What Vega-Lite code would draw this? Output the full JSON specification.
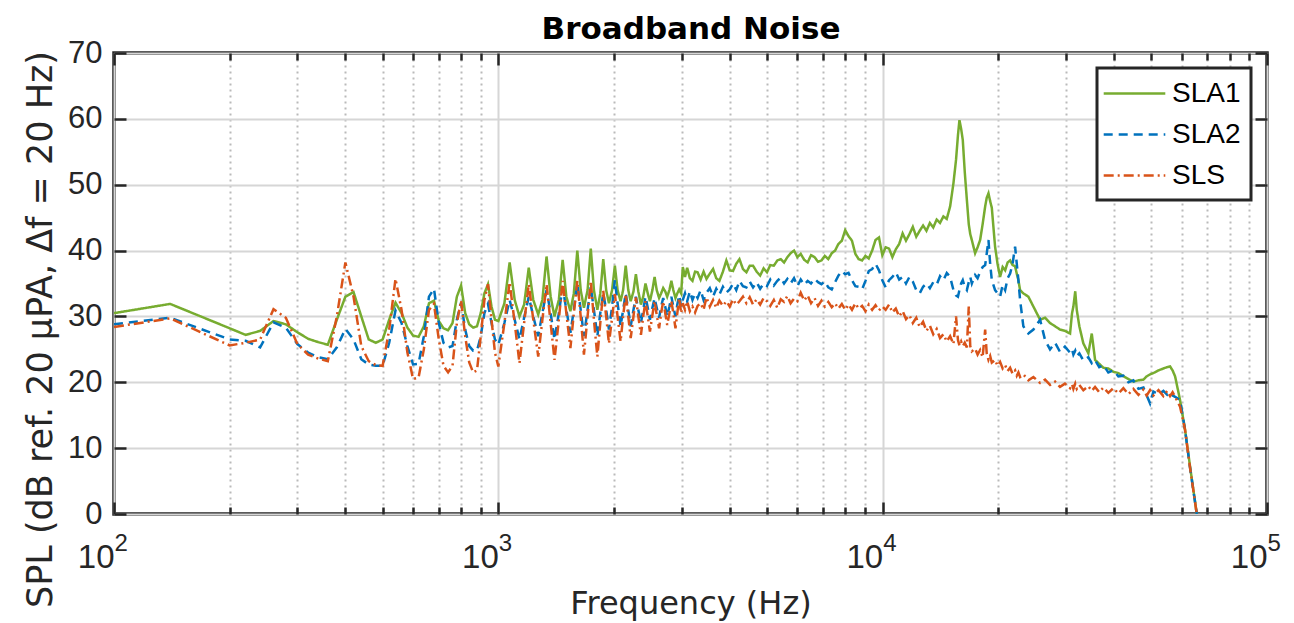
{
  "$schema": "https://vega.github.io/schema/vega-lite/v6.json",
  "width": 1153,
  "height": 461,
  "autosize": {"type": "none"},
  "padding": {"left": 114, "top": 53, "right": 27, "bottom": 109},
  "background": "white",
  "data": {
    "values": [
      {"f": 100, "SLA1": 30.5, "SLA2": 28.8, "SLS": 28.4},
      {"f": 140, "SLA1": 31.9, "SLA2": 29.8, "SLS": 29.7},
      {"f": 200, "SLA1": 28.2, "SLA2": 26.5, "SLS": 25.6},
      {"f": 220, "SLA1": 27.2, "SLA2": 26.3, "SLS": 26.0},
      {"f": 240, "SLA1": 27.8, "SLA2": 25.3, "SLS": 26.5},
      {"f": 260, "SLA1": 29.3, "SLA2": 29.1, "SLS": 31.1},
      {"f": 280, "SLA1": 28.8, "SLA2": 28.3, "SLS": 29.8},
      {"f": 300, "SLA1": 27.6, "SLA2": 25.8, "SLS": 25.8},
      {"f": 320, "SLA1": 26.6, "SLA2": 24.5, "SLS": 24.2},
      {"f": 340, "SLA1": 26.1, "SLA2": 23.8, "SLS": 23.6},
      {"f": 360, "SLA1": 25.7, "SLA2": 23.5, "SLS": 23.2},
      {"f": 380, "SLA1": 29.5, "SLA2": 25.3, "SLS": 30.0},
      {"f": 400, "SLA1": 33.0, "SLA2": 28.1, "SLS": 38.2},
      {"f": 420, "SLA1": 33.7, "SLA2": 26.5, "SLS": 33.0},
      {"f": 440, "SLA1": 30.0, "SLA2": 23.5, "SLS": 25.5},
      {"f": 460, "SLA1": 26.5, "SLA2": 22.7, "SLS": 23.2},
      {"f": 480, "SLA1": 26.0, "SLA2": 22.5, "SLS": 22.6},
      {"f": 500, "SLA1": 26.5, "SLA2": 22.5, "SLS": 22.5},
      {"f": 520, "SLA1": 29.5, "SLA2": 26.0, "SLS": 28.0},
      {"f": 540, "SLA1": 32.1, "SLA2": 30.9, "SLS": 35.7},
      {"f": 560, "SLA1": 30.5, "SLA2": 29.0, "SLS": 31.0},
      {"f": 580, "SLA1": 28.3, "SLA2": 25.5, "SLS": 24.5},
      {"f": 600, "SLA1": 27.1, "SLA2": 22.7, "SLS": 20.5},
      {"f": 620, "SLA1": 26.9, "SLA2": 22.8, "SLS": 20.7},
      {"f": 640, "SLA1": 28.5, "SLA2": 27.0, "SLS": 25.0},
      {"f": 660, "SLA1": 32.0, "SLA2": 33.0, "SLS": 31.0},
      {"f": 680, "SLA1": 32.4, "SLA2": 34.2, "SLS": 31.9},
      {"f": 700, "SLA1": 29.3, "SLA2": 29.0, "SLS": 26.5},
      {"f": 720, "SLA1": 28.2, "SLA2": 26.0, "SLS": 22.5},
      {"f": 740, "SLA1": 27.9, "SLA2": 25.3, "SLS": 21.5},
      {"f": 760, "SLA1": 29.0, "SLA2": 25.5, "SLS": 22.5},
      {"f": 780, "SLA1": 33.0, "SLA2": 29.5, "SLS": 29.0},
      {"f": 800, "SLA1": 34.7, "SLA2": 32.1, "SLS": 32.4},
      {"f": 820, "SLA1": 30.5, "SLA2": 28.0, "SLS": 27.0},
      {"f": 840, "SLA1": 28.8, "SLA2": 25.5, "SLS": 23.0},
      {"f": 860, "SLA1": 28.3, "SLA2": 24.8, "SLS": 21.5},
      {"f": 880, "SLA1": 28.5, "SLA2": 24.8, "SLS": 21.8},
      {"f": 900, "SLA1": 30.5, "SLA2": 27.0, "SLS": 27.0},
      {"f": 920, "SLA1": 33.5, "SLA2": 30.5, "SLS": 32.5},
      {"f": 940, "SLA1": 34.9, "SLA2": 31.9, "SLS": 34.9},
      {"f": 960, "SLA1": 31.5, "SLA2": 29.0, "SLS": 29.5},
      {"f": 980, "SLA1": 29.5, "SLA2": 26.5, "SLS": 24.5},
      {"f": 1000, "SLA1": 29.3, "SLA2": 25.7, "SLS": 22.4},
      {"f": 1037, "SLA1": 32.0, "SLA2": 29.0, "SLS": 29.0},
      {"f": 1070, "SLA1": 38.2, "SLA2": 32.5, "SLS": 35.2},
      {"f": 1103, "SLA1": 32.5, "SLA2": 29.5, "SLS": 29.0},
      {"f": 1135, "SLA1": 30.0, "SLA2": 26.5, "SLS": 22.9},
      {"f": 1167, "SLA1": 31.8, "SLA2": 29.8, "SLS": 29.0},
      {"f": 1200, "SLA1": 37.4, "SLA2": 33.0, "SLS": 34.9},
      {"f": 1233, "SLA1": 32.5, "SLA2": 30.0, "SLS": 29.5},
      {"f": 1270, "SLA1": 30.3, "SLA2": 27.0, "SLS": 23.9},
      {"f": 1302, "SLA1": 32.5, "SLA2": 30.5, "SLS": 29.5},
      {"f": 1335, "SLA1": 39.1, "SLA2": 34.0, "SLS": 34.9},
      {"f": 1368, "SLA1": 33.0, "SLA2": 30.5, "SLS": 29.0},
      {"f": 1400, "SLA1": 30.0, "SLA2": 26.5, "SLS": 23.4},
      {"f": 1437, "SLA1": 32.5, "SLA2": 30.5, "SLS": 29.5},
      {"f": 1470, "SLA1": 38.6, "SLA2": 34.5, "SLS": 35.4},
      {"f": 1503, "SLA1": 33.0, "SLA2": 31.0, "SLS": 30.5},
      {"f": 1540, "SLA1": 30.8, "SLA2": 27.5, "SLS": 25.2},
      {"f": 1572, "SLA1": 33.5, "SLA2": 31.0, "SLS": 30.5},
      {"f": 1605, "SLA1": 40.0, "SLA2": 35.0, "SLS": 35.4},
      {"f": 1638, "SLA1": 34.0, "SLA2": 31.0, "SLS": 30.0},
      {"f": 1670, "SLA1": 31.3, "SLA2": 27.0, "SLS": 24.2},
      {"f": 1707, "SLA1": 34.0, "SLA2": 31.0, "SLS": 30.0},
      {"f": 1740, "SLA1": 40.3, "SLA2": 34.5, "SLS": 35.4},
      {"f": 1773, "SLA1": 34.0, "SLA2": 31.0, "SLS": 29.5},
      {"f": 1810, "SLA1": 31.0, "SLA2": 27.0, "SLS": 23.9},
      {"f": 1842, "SLA1": 33.5, "SLA2": 30.5, "SLS": 29.0},
      {"f": 1875, "SLA1": 38.7, "SLA2": 33.5, "SLS": 33.9},
      {"f": 1908, "SLA1": 34.0, "SLA2": 31.0, "SLS": 30.0},
      {"f": 1940, "SLA1": 32.0, "SLA2": 28.0, "SLS": 25.9},
      {"f": 1977, "SLA1": 34.0, "SLA2": 31.5, "SLS": 29.8},
      {"f": 2010, "SLA1": 37.7, "SLA2": 35.5, "SLS": 33.4},
      {"f": 2043, "SLA1": 34.0, "SLA2": 32.0, "SLS": 30.0},
      {"f": 2080, "SLA1": 32.3, "SLA2": 28.5, "SLS": 26.2},
      {"f": 2112, "SLA1": 34.0, "SLA2": 31.0, "SLS": 30.0},
      {"f": 2145, "SLA1": 37.7, "SLA2": 33.5, "SLS": 33.4},
      {"f": 2178, "SLA1": 34.0, "SLA2": 31.0, "SLS": 30.0},
      {"f": 2210, "SLA1": 32.3, "SLA2": 28.5, "SLS": 26.7},
      {"f": 2247, "SLA1": 33.8, "SLA2": 31.0, "SLS": 30.0},
      {"f": 2280, "SLA1": 36.4, "SLA2": 33.0, "SLS": 32.9},
      {"f": 2313, "SLA1": 33.8, "SLA2": 31.0, "SLS": 30.0},
      {"f": 2350, "SLA1": 31.8, "SLA2": 29.0, "SLS": 27.2},
      {"f": 2382, "SLA1": 33.0, "SLA2": 31.0, "SLS": 30.0},
      {"f": 2415, "SLA1": 35.0, "SLA2": 33.0, "SLS": 32.3},
      {"f": 2448, "SLA1": 33.5, "SLA2": 31.3, "SLS": 30.0},
      {"f": 2480, "SLA1": 32.3, "SLA2": 29.5, "SLS": 27.7},
      {"f": 2517, "SLA1": 34.0, "SLA2": 31.3, "SLS": 30.2},
      {"f": 2550, "SLA1": 36.0, "SLA2": 32.8, "SLS": 32.3},
      {"f": 2583, "SLA1": 34.0, "SLA2": 31.3, "SLS": 30.2},
      {"f": 2620, "SLA1": 32.8, "SLA2": 29.8, "SLS": 28.2},
      {"f": 2652, "SLA1": 33.5, "SLA2": 31.5, "SLS": 30.5},
      {"f": 2685, "SLA1": 34.3, "SLA2": 32.8, "SLS": 32.3},
      {"f": 2718, "SLA1": 33.8, "SLA2": 31.5, "SLS": 30.5},
      {"f": 2750, "SLA1": 33.0, "SLA2": 30.0, "SLS": 28.7},
      {"f": 2787, "SLA1": 34.0, "SLA2": 31.5, "SLS": 30.5},
      {"f": 2820, "SLA1": 35.4, "SLA2": 33.0, "SLS": 32.3},
      {"f": 2853, "SLA1": 34.0, "SLA2": 31.5, "SLS": 30.5},
      {"f": 2890, "SLA1": 32.8, "SLA2": 30.0, "SLS": 28.2},
      {"f": 2922, "SLA1": 33.5, "SLA2": 31.8, "SLS": 30.5},
      {"f": 2955, "SLA1": 34.1, "SLA2": 33.2, "SLS": 32.8},
      {"f": 2990, "SLA1": 33.5, "SLA2": 31.5, "SLS": 30.5},
      {"f": 3020, "SLA1": 37.5, "SLA2": 32.5, "SLS": 32.0},
      {"f": 3060, "SLA1": 36.0, "SLA2": 33.5, "SLS": 31.0},
      {"f": 3100, "SLA1": 37.4, "SLA2": 32.3, "SLS": 32.3},
      {"f": 3150, "SLA1": 35.8, "SLA2": 33.8, "SLS": 30.8},
      {"f": 3200, "SLA1": 35.4, "SLA2": 32.5, "SLS": 31.5},
      {"f": 3250, "SLA1": 36.8, "SLA2": 33.5, "SLS": 30.6},
      {"f": 3300, "SLA1": 36.7, "SLA2": 32.8, "SLS": 31.6},
      {"f": 3360, "SLA1": 35.6, "SLA2": 34.0, "SLS": 32.0},
      {"f": 3420, "SLA1": 36.8, "SLA2": 32.5, "SLS": 31.0},
      {"f": 3480, "SLA1": 35.7, "SLA2": 33.6, "SLS": 32.9},
      {"f": 3550, "SLA1": 36.5, "SLA2": 34.3, "SLS": 31.5},
      {"f": 3620, "SLA1": 37.2, "SLA2": 33.0, "SLS": 32.5},
      {"f": 3690, "SLA1": 35.8, "SLA2": 34.2, "SLS": 31.3},
      {"f": 3760, "SLA1": 35.4, "SLA2": 33.3, "SLS": 32.4},
      {"f": 3840, "SLA1": 36.8, "SLA2": 34.5, "SLS": 31.6},
      {"f": 3920, "SLA1": 38.5, "SLA2": 33.6, "SLS": 32.3},
      {"f": 4000, "SLA1": 37.0, "SLA2": 34.1, "SLS": 31.5},
      {"f": 4080, "SLA1": 36.9, "SLA2": 35.0, "SLS": 32.6},
      {"f": 4160, "SLA1": 38.0, "SLA2": 34.0, "SLS": 31.8},
      {"f": 4240, "SLA1": 38.7, "SLA2": 35.4, "SLS": 32.3},
      {"f": 4330, "SLA1": 37.2, "SLA2": 34.6, "SLS": 33.0},
      {"f": 4420, "SLA1": 36.7, "SLA2": 34.4, "SLS": 32.0},
      {"f": 4510, "SLA1": 37.7, "SLA2": 35.3, "SLS": 32.9},
      {"f": 4600, "SLA1": 37.7, "SLA2": 34.4, "SLS": 31.8},
      {"f": 4700, "SLA1": 36.8, "SLA2": 35.2, "SLS": 32.6},
      {"f": 4800, "SLA1": 36.2, "SLA2": 34.2, "SLS": 31.8},
      {"f": 4900, "SLA1": 37.3, "SLA2": 35.0, "SLS": 32.8},
      {"f": 5000, "SLA1": 36.7, "SLA2": 34.6, "SLS": 32.3},
      {"f": 5100, "SLA1": 37.8, "SLA2": 35.6, "SLS": 31.6},
      {"f": 5210, "SLA1": 37.7, "SLA2": 34.7, "SLS": 32.5},
      {"f": 5320, "SLA1": 38.5, "SLA2": 35.4, "SLS": 31.3},
      {"f": 5430, "SLA1": 38.7, "SLA2": 35.9, "SLS": 32.6},
      {"f": 5540, "SLA1": 38.2, "SLA2": 35.0, "SLS": 32.2},
      {"f": 5650, "SLA1": 39.0, "SLA2": 35.7, "SLS": 33.1},
      {"f": 5760, "SLA1": 39.6, "SLA2": 35.0, "SLS": 32.0},
      {"f": 5880, "SLA1": 40.0, "SLA2": 35.8, "SLS": 32.7},
      {"f": 6000, "SLA1": 39.0, "SLA2": 34.6, "SLS": 32.3},
      {"f": 6120, "SLA1": 39.5, "SLA2": 35.6, "SLS": 33.6},
      {"f": 6250, "SLA1": 38.6, "SLA2": 34.8, "SLS": 32.4},
      {"f": 6380, "SLA1": 38.2, "SLA2": 35.4, "SLS": 33.2},
      {"f": 6510, "SLA1": 39.3, "SLA2": 35.0, "SLS": 32.0},
      {"f": 6650, "SLA1": 39.0, "SLA2": 35.7, "SLS": 32.8},
      {"f": 6790, "SLA1": 38.3, "SLA2": 35.2, "SLS": 31.6},
      {"f": 6930, "SLA1": 38.5, "SLA2": 34.9, "SLS": 32.4},
      {"f": 7070, "SLA1": 39.2, "SLA2": 35.3, "SLS": 31.5},
      {"f": 7220, "SLA1": 38.7, "SLA2": 34.4, "SLS": 32.2},
      {"f": 7370, "SLA1": 39.6, "SLA2": 34.1, "SLS": 31.4},
      {"f": 7520, "SLA1": 40.0, "SLA2": 35.2, "SLS": 32.0},
      {"f": 7670, "SLA1": 41.0, "SLA2": 36.2, "SLS": 31.2},
      {"f": 7830, "SLA1": 41.5, "SLA2": 36.9, "SLS": 31.9},
      {"f": 7990, "SLA1": 43.1, "SLA2": 36.4, "SLS": 31.0},
      {"f": 8150, "SLA1": 42.2, "SLA2": 36.6, "SLS": 31.8},
      {"f": 8320, "SLA1": 41.5, "SLA2": 35.5, "SLS": 31.0},
      {"f": 8490, "SLA1": 39.5, "SLA2": 34.6, "SLS": 32.0},
      {"f": 8660, "SLA1": 38.7, "SLA2": 34.5, "SLS": 31.2},
      {"f": 8840, "SLA1": 38.5, "SLA2": 34.1, "SLS": 31.6},
      {"f": 9020, "SLA1": 39.2, "SLA2": 35.4, "SLS": 30.8},
      {"f": 9200, "SLA1": 38.8, "SLA2": 36.9, "SLS": 31.8},
      {"f": 9390, "SLA1": 40.0, "SLA2": 37.2, "SLS": 31.0},
      {"f": 9580, "SLA1": 41.6, "SLA2": 38.0, "SLS": 31.7},
      {"f": 9780, "SLA1": 42.0, "SLA2": 37.0, "SLS": 30.9},
      {"f": 9980, "SLA1": 39.3, "SLA2": 35.5, "SLS": 31.5},
      {"f": 10180, "SLA1": 40.5, "SLA2": 34.4, "SLS": 31.0},
      {"f": 10390, "SLA1": 40.3, "SLA2": 35.5, "SLS": 31.8},
      {"f": 10600, "SLA1": 39.0, "SLA2": 36.0, "SLS": 30.6},
      {"f": 10820, "SLA1": 40.2, "SLA2": 36.7, "SLS": 31.2},
      {"f": 11040, "SLA1": 41.0, "SLA2": 35.6, "SLS": 30.0},
      {"f": 11270, "SLA1": 42.6, "SLA2": 36.0, "SLS": 30.8},
      {"f": 11500, "SLA1": 41.5, "SLA2": 35.0, "SLS": 29.6},
      {"f": 11740, "SLA1": 42.5, "SLA2": 36.0, "SLS": 30.2},
      {"f": 11980, "SLA1": 43.6, "SLA2": 35.3, "SLS": 29.0},
      {"f": 12230, "SLA1": 42.1, "SLA2": 34.0, "SLS": 29.8},
      {"f": 12480, "SLA1": 43.0, "SLA2": 33.5, "SLS": 28.4},
      {"f": 12740, "SLA1": 43.8, "SLA2": 34.5, "SLS": 29.2},
      {"f": 13000, "SLA1": 43.0, "SLA2": 35.0, "SLS": 27.8},
      {"f": 13270, "SLA1": 44.2, "SLA2": 34.3, "SLS": 28.6},
      {"f": 13540, "SLA1": 43.5, "SLA2": 35.2, "SLS": 27.3},
      {"f": 13820, "SLA1": 44.7, "SLA2": 34.8, "SLS": 28.1},
      {"f": 14100, "SLA1": 44.2, "SLA2": 36.1, "SLS": 26.7},
      {"f": 14390, "SLA1": 45.2, "SLA2": 35.5, "SLS": 27.3},
      {"f": 14680, "SLA1": 44.8, "SLA2": 36.6, "SLS": 26.2},
      {"f": 14980, "SLA1": 46.7, "SLA2": 36.0, "SLS": 27.0},
      {"f": 15280, "SLA1": 50.2, "SLA2": 34.0, "SLS": 25.8},
      {"f": 15520, "SLA1": 53.8, "SLA2": 33.2, "SLS": 30.0},
      {"f": 15700, "SLA1": 57.5, "SLA2": 33.0, "SLS": 26.4},
      {"f": 15840, "SLA1": 59.8, "SLA2": 34.0, "SLS": 25.6},
      {"f": 16000, "SLA1": 58.5, "SLA2": 35.0, "SLS": 26.2},
      {"f": 16160, "SLA1": 56.8, "SLA2": 35.5, "SLS": 25.5},
      {"f": 16350, "SLA1": 52.0, "SLA2": 34.5, "SLS": 26.0},
      {"f": 16560, "SLA1": 47.7, "SLA2": 34.0, "SLS": 25.3},
      {"f": 16750, "SLA1": 44.0, "SLA2": 35.2, "SLS": 31.5},
      {"f": 16900, "SLA1": 42.5, "SLA2": 36.0, "SLS": 25.5},
      {"f": 17060, "SLA1": 41.6, "SLA2": 35.0, "SLS": 24.7},
      {"f": 17400, "SLA1": 39.6, "SLA2": 36.3, "SLS": 25.1},
      {"f": 17660, "SLA1": 40.5, "SLA2": 35.8, "SLS": 24.2},
      {"f": 17930, "SLA1": 41.6, "SLA2": 36.8, "SLS": 24.9},
      {"f": 18200, "SLA1": 44.0, "SLA2": 37.5, "SLS": 23.8},
      {"f": 18480, "SLA1": 46.7, "SLA2": 37.8, "SLS": 28.0},
      {"f": 18650, "SLA1": 48.0, "SLA2": 39.5, "SLS": 24.4},
      {"f": 18850, "SLA1": 48.7, "SLA2": 41.6, "SLS": 23.4},
      {"f": 19040, "SLA1": 47.5, "SLA2": 38.0, "SLS": 24.0},
      {"f": 19230, "SLA1": 46.5, "SLA2": 35.5, "SLS": 23.0},
      {"f": 19610, "SLA1": 40.6, "SLA2": 34.0, "SLS": 23.4},
      {"f": 19900, "SLA1": 38.0, "SLA2": 33.5, "SLS": 22.5},
      {"f": 20210, "SLA1": 36.0, "SLA2": 33.0, "SLS": 23.1},
      {"f": 20520, "SLA1": 37.5, "SLA2": 34.8, "SLS": 22.1},
      {"f": 20830, "SLA1": 37.0, "SLA2": 34.0, "SLS": 22.6},
      {"f": 21140, "SLA1": 38.2, "SLA2": 35.8, "SLS": 21.7},
      {"f": 21460, "SLA1": 38.5, "SLA2": 36.5, "SLS": 22.2},
      {"f": 21780, "SLA1": 37.8, "SLA2": 38.0, "SLS": 21.3},
      {"f": 22110, "SLA1": 37.6, "SLA2": 40.6, "SLS": 21.8},
      {"f": 22330, "SLA1": 36.5, "SLA2": 38.0, "SLS": 21.0},
      {"f": 22550, "SLA1": 35.5, "SLA2": 35.5, "SLS": 21.5},
      {"f": 22780, "SLA1": 34.0, "SLA2": 32.5, "SLS": 20.8},
      {"f": 23230, "SLA1": 33.5, "SLA2": 28.5, "SLS": 21.2},
      {"f": 23940, "SLA1": 33.0, "SLA2": 27.4, "SLS": 20.3},
      {"f": 24670, "SLA1": 31.5, "SLA2": 28.0, "SLS": 20.8},
      {"f": 25680, "SLA1": 29.5, "SLA2": 29.5, "SLS": 19.9},
      {"f": 26460, "SLA1": 29.8, "SLA2": 26.4, "SLS": 20.4},
      {"f": 27260, "SLA1": 29.0, "SLA2": 25.0, "SLS": 19.6},
      {"f": 28100, "SLA1": 28.5, "SLA2": 26.0, "SLS": 20.1},
      {"f": 28940, "SLA1": 28.0, "SLA2": 24.6, "SLS": 19.3},
      {"f": 29800, "SLA1": 27.8, "SLA2": 25.4, "SLS": 19.8},
      {"f": 30730, "SLA1": 27.4, "SLA2": 24.5, "SLS": 19.1},
      {"f": 31100, "SLA1": 30.5, "SLA2": 25.0, "SLS": 19.7},
      {"f": 31350, "SLA1": 31.5, "SLA2": 24.2, "SLS": 19.0},
      {"f": 31700, "SLA1": 33.8, "SLA2": 24.8, "SLS": 19.8},
      {"f": 31990, "SLA1": 31.0, "SLA2": 24.0, "SLS": 19.0},
      {"f": 32490, "SLA1": 28.5, "SLA2": 24.4, "SLS": 19.6},
      {"f": 33280, "SLA1": 25.9, "SLA2": 23.3, "SLS": 18.8},
      {"f": 34290, "SLA1": 24.4, "SLA2": 23.8, "SLS": 19.4},
      {"f": 35000, "SLA1": 27.4, "SLA2": 22.9, "SLS": 18.7},
      {"f": 35700, "SLA1": 23.4, "SLA2": 23.4, "SLS": 19.3},
      {"f": 36600, "SLA1": 22.8, "SLA2": 22.3, "SLS": 18.5},
      {"f": 37520, "SLA1": 22.2, "SLA2": 22.6, "SLS": 19.2},
      {"f": 38650, "SLA1": 22.1, "SLA2": 21.5, "SLS": 18.4},
      {"f": 39840, "SLA1": 21.6, "SLA2": 21.8, "SLS": 19.1},
      {"f": 41050, "SLA1": 21.4, "SLA2": 20.9, "SLS": 18.3},
      {"f": 42300, "SLA1": 20.9, "SLA2": 21.0, "SLS": 19.1},
      {"f": 43600, "SLA1": 20.5, "SLA2": 20.0, "SLS": 18.2},
      {"f": 44910, "SLA1": 20.1, "SLA2": 20.3, "SLS": 19.0},
      {"f": 46300, "SLA1": 20.3, "SLA2": 19.0, "SLS": 18.1},
      {"f": 47690, "SLA1": 20.4, "SLA2": 19.2, "SLS": 18.9},
      {"f": 48650, "SLA1": 20.9, "SLA2": 18.0, "SLS": 18.0},
      {"f": 49630, "SLA1": 21.2, "SLA2": 16.8, "SLS": 18.8},
      {"f": 50630, "SLA1": 21.4, "SLA2": 18.6, "SLS": 18.0},
      {"f": 52200, "SLA1": 21.8, "SLA2": 18.2, "SLS": 18.8},
      {"f": 53760, "SLA1": 22.1, "SLA2": 18.7, "SLS": 17.9},
      {"f": 55000, "SLA1": 22.3, "SLA2": 18.1, "SLS": 18.7},
      {"f": 55950, "SLA1": 22.4, "SLA2": 18.5, "SLS": 17.9},
      {"f": 56800, "SLA1": 21.8, "SLA2": 18.0, "SLS": 18.5},
      {"f": 57660, "SLA1": 20.9, "SLA2": 17.8, "SLS": 17.8},
      {"f": 59400, "SLA1": 17.3, "SLA2": 17.3, "SLS": 16.3},
      {"f": 61200, "SLA1": 12.8, "SLA2": 12.8, "SLS": 12.8},
      {"f": 63070, "SLA1": 7.2, "SLA2": 7.0, "SLS": 7.0},
      {"f": 65660, "SLA1": 0.0, "SLA2": 0.0, "SLS": 0.0}
    ]
  },
  "transform": [{"fold": ["SLA1", "SLA2", "SLS"], "as": ["series", "spl"]}],
  "layer": [
    {
      "transform": [{"filter": "datum.series === 'SLA1'"}],
      "mark": {"type": "line", "strokeWidth": 2.5, "clip": true},
      "encoding": {
        "x": {
          "field": "f",
          "type": "quantitative",
          "scale": {"type": "log", "domain": [100, 100000], "nice": false},
          "axis": {
            "orient": "bottom",
            "title": "Frequency (Hz)",
            "values": [100, 200, 300, 400, 500, 600, 700, 800, 900, 1000, 2000, 3000, 4000, 5000, 6000, 7000, 8000, 9000, 10000, 20000, 30000, 40000, 50000, 60000, 70000, 80000, 90000, 100000],
            "labelExpr": "indexof([100, 1000, 10000, 100000], datum.value) >= 0 ? '10' : ''",
            "labelOverlap": false,
            "labelFlush": false,
            "labelBound": false,
            "labelFont": "Liberation Sans",
            "labelFontSize": 33,
            "labelColor": "#262626",
            "labelBaseline": "alphabetic",
            "labelAlign": "right",
            "labelDx": 11,
            "labelPadding": 65,
            "domain": false,
            "grid": true,
            "gridWidth": 2,
            "gridColor": {"condition": {"test": "indexof([100, 1000, 10000, 100000], datum.value) >= 0", "value": "#d6d6d6"}, "value": "#bababa"},
            "gridDash": {"condition": {"test": "indexof([100, 1000, 10000, 100000], datum.value) >= 0", "value": []}, "value": [2, 4]},
            "ticks": true,
            "tickColor": "#262626",
            "tickWidth": 2.5,
            "tickSize": {"condition": {"test": "indexof([100, 1000, 10000, 100000], datum.value) >= 0", "value": -12}, "value": -7},
            "titleFont": "DejaVu Sans",
            "titleFontSize": 32,
            "titleFontWeight": "normal",
            "titleColor": "#262626",
            "titleBaseline": "alphabetic",
            "titleY": 99
          }
        },
        "y": {
          "field": "spl",
          "type": "quantitative",
          "scale": {"domain": [0, 70], "nice": false, "zero": false},
          "axis": {
            "orient": "left",
            "title": "SPL (dB ref. 20 μPA, Δf = 20 Hz)",
            "values": [0, 10, 20, 30, 40, 50, 60, 70],
            "labelFont": "Liberation Sans",
            "labelFontSize": 31,
            "labelColor": "#262626",
            "labelPadding": 24,
            "domain": false,
            "grid": true,
            "gridWidth": 2,
            "gridColor": "#d6d6d6",
            "ticks": true,
            "tickColor": "#262626",
            "tickWidth": 2.5,
            "tickSize": -12,
            "titleFont": "DejaVu Sans",
            "titleFontSize": 35,
            "titleFontWeight": "normal",
            "titleColor": "#262626",
            "titleBaseline": "alphabetic",
            "titleAlign": "center",
            "titleAngle": -90,
            "titleX": -63,
            "titleY": 276
          }
        },
        "color": {
          "field": "series",
          "type": "nominal",
          "scale": {"domain": ["SLA1", "SLA2", "SLS"], "range": ["#77AC30", "#0072BD", "#D95319"]},
          "legend": {"orient": "none", "legendX": 983, "legendY": 15, "title": null}
        },
        "strokeDash": {
          "field": "series",
          "type": "nominal",
          "scale": {"domain": ["SLA1", "SLA2", "SLS"], "range": [[1, 0], [9, 6], [10, 4, 2, 4]]},
          "legend": {"orient": "none", "legendX": 983, "legendY": 15, "title": null}
        }
      }
    },
    {
      "transform": [{"filter": "datum.series === 'SLA2'"}],
      "mark": {"type": "line", "strokeWidth": 2.5, "clip": true},
      "encoding": {
        "x": {
          "field": "f",
          "type": "quantitative",
          "axis": {
            "orient": "top",
            "title": "Broadband Noise",
            "titleFont": "DejaVu Sans",
            "titleFontSize": 31,
            "titleFontWeight": "bold",
            "titleColor": "#000000",
            "titleBaseline": "alphabetic",
            "titleAlign": "center",
            "titleAngle": 0,
            "titleX": 576.5,
            "titleY": -15,
            "labels": false,
            "grid": false,
            "domain": false,
            "values": [100, 200, 300, 400, 500, 600, 700, 800, 900, 1000, 2000, 3000, 4000, 5000, 6000, 7000, 8000, 9000, 10000, 20000, 30000, 40000, 50000, 60000, 70000, 80000, 90000, 100000],
            "ticks": true,
            "tickColor": "#262626",
            "tickWidth": 2.5,
            "tickSize": {"condition": {"test": "indexof([100, 1000, 10000, 100000], datum.value) >= 0", "value": -12}, "value": -7}
          }
        },
        "y": {
          "field": "spl",
          "type": "quantitative",
          "axis": {
            "orient": "right",
            "title": null,
            "labels": false,
            "grid": false,
            "domain": false,
            "values": [0, 10, 20, 30, 40, 50, 60, 70],
            "ticks": true,
            "tickColor": "#262626",
            "tickWidth": 2.5,
            "tickSize": -12
          }
        },
        "color": {"field": "series", "type": "nominal"},
        "strokeDash": {"field": "series", "type": "nominal"}
      }
    },
    {
      "transform": [{"filter": "datum.series === 'SLS'"}],
      "mark": {"type": "line", "strokeWidth": 2.5, "clip": true},
      "encoding": {
        "x": {
          "field": "f",
          "type": "quantitative",
          "axis": {
            "orient": "bottom",
            "title": null,
            "values": [100, 1000, 10000, 100000],
            "labelExpr": "datum.value === 100 ? '2' : datum.value === 1000 ? '3' : datum.value === 10000 ? '4' : '5'",
            "labelOverlap": false,
            "labelFlush": false,
            "labelBound": false,
            "labelFont": "Liberation Sans",
            "labelFontSize": 24,
            "labelColor": "#262626",
            "labelBaseline": "alphabetic",
            "labelAlign": "left",
            "labelDx": 13,
            "labelPadding": 36,
            "ticks": false,
            "grid": false,
            "domain": false
          }
        },
        "y": {"field": "spl", "type": "quantitative", "axis": null},
        "color": {"field": "series", "type": "nominal"},
        "strokeDash": {"field": "series", "type": "nominal"}
      }
    }
  ],
  "resolve": {"axis": {"x": "independent", "y": "independent"}},
  "config": {
    "view": {"stroke": "#262626", "strokeWidth": 3.5},
    "legend": {
      "symbolType": "M-2.2,0H2.2",
      "symbolSize": 784,
      "symbolOffset": 12,
      "symbolStrokeWidth": 2.5,
      "labelFont": "Liberation Sans",
      "labelFontSize": 28,
      "labelColor": "#000000",
      "labelOffset": 22,
      "rowPadding": 11,
      "padding": 10,
      "fillColor": "white",
      "strokeColor": "#262626",
      "strokeWidth": 3
    }
  }
}
